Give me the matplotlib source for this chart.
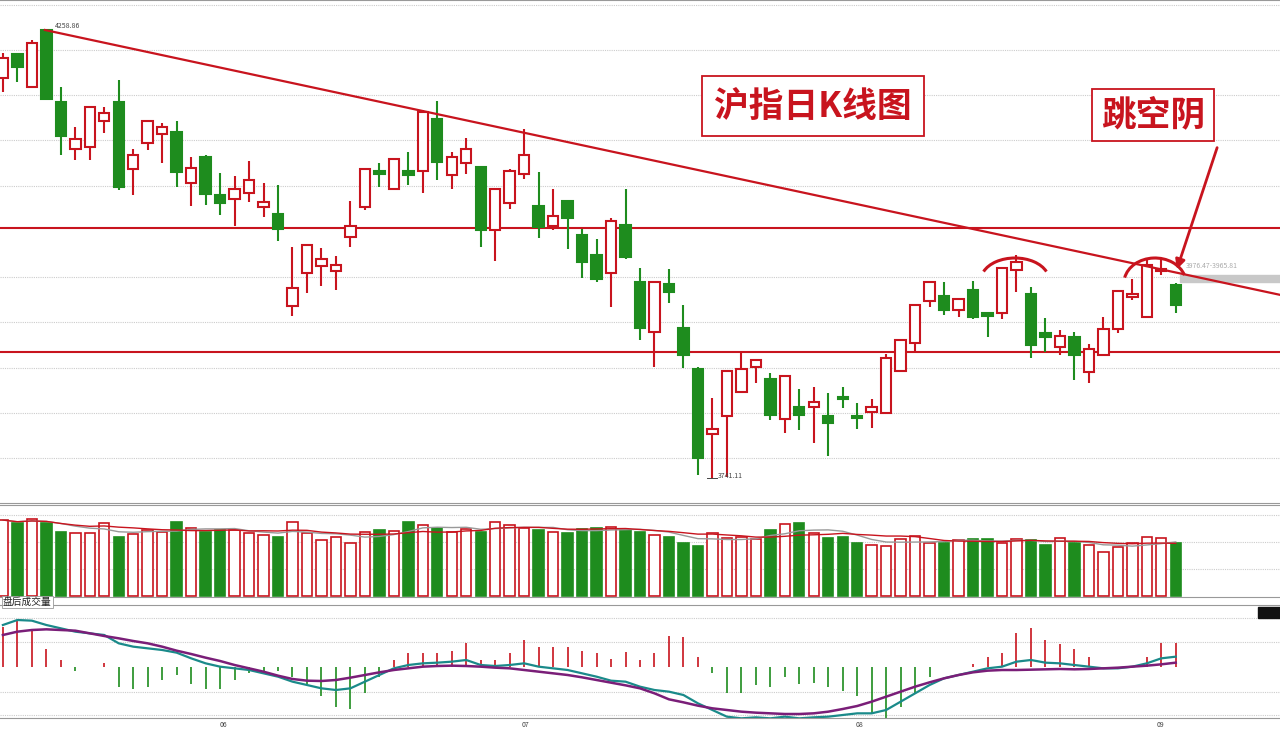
import matplotlib.pyplot as plt
import numpy as np
from matplotlib.patches import Rectangle, Arc, FancyArrowPatch

plt.rcParams['font.family'] = ['Noto Sans CJK SC', 'DejaVu Sans']

# candle readings (chart scale, top of chart = 0), converted to price below
open_r = [78, 54, 87, 30, 102, 149, 147, 121, 102, 169, 143, 134, 132, 183, 157, 195, 199, 193, 207, 214,
          306, 273, 266, 271, 237, 207, 171, 189, 171, 171, 119, 175, 163, 167, 230, 203, 174, 206, 226, 201,
          235, 255, 273, 225, 282, 332, 284, 328, 369, 434, 416, 392, 367, 379, 419, 407, 407, 416, 397, 416,
          412, 413, 371, 343, 301, 296, 310, 290, 313, 313, 270, 294, 333, 347, 337, 372, 355, 329, 297, 317,
          271, 285]
close_r = [58, 67, 43, 99, 136, 139, 107, 113, 187, 155, 121, 127, 172, 168, 194, 203, 189, 180, 202, 229,
           288, 245, 259, 265, 226, 169, 174, 159, 175, 112, 162, 157, 149, 230, 189, 171, 155, 227, 216, 218,
           262, 279, 221, 257, 328, 282, 292, 355, 458, 429, 371, 369, 360, 415, 376, 415, 402, 423, 399, 418,
           407, 358, 340, 305, 282, 310, 299, 317, 316, 268, 262, 345, 337, 336, 355, 349, 329, 291, 294, 265,
           269, 305]
high_r = [53, 54, 40, 30, 87, 127, 107, 107, 80, 149, 121, 123, 121, 157, 155, 173, 176, 161, 183, 185,
          247, 245, 248, 256, 201, 169, 163, 159, 152, 110, 101, 152, 138, 167, 189, 169, 129, 172, 189, 201,
          229, 239, 218, 189, 268, 282, 269, 305, 367, 398, 371, 353, 360, 373, 376, 389, 387, 393, 387, 403,
          399, 354, 340, 305, 282, 282, 299, 281, 312, 268, 255, 287, 318, 330, 332, 344, 317, 291, 279, 260,
          259, 283]
low_r = [92, 82, 88, 100, 155, 160, 160, 133, 190, 195, 150, 163, 187, 206, 205, 215, 226, 202, 217, 241,
         316, 293, 286, 290, 247, 210, 187, 189, 185, 193, 180, 189, 174, 247, 261, 209, 179, 238, 230, 249,
         278, 282, 307, 259, 340, 367, 303, 368, 475, 478, 477, 392, 383, 420, 433, 430, 443, 456, 408, 429,
         428, 413, 371, 353, 307, 315, 317, 319, 337, 319, 292, 358, 352, 355, 380, 383, 355, 333, 300, 317,
         275, 313]

volume = [228, 218, 230, 220, 193, 188, 188, 218, 178, 185, 198, 193, 221, 203, 193, 198, 198, 188, 183, 178,
          223, 188, 168, 178, 158, 193, 198, 196, 223, 213, 203, 193, 200, 193, 223, 213, 203, 198, 193, 188,
          200, 203, 208, 198, 193, 183, 178, 158, 150, 190, 173, 178, 170, 198, 216, 218, 188, 173, 178, 158,
          153, 150, 170, 180, 160, 160, 168, 170, 170, 158, 170, 168, 153, 173, 158, 153, 133, 148, 158, 176,
          173, 158]

dif_r = [375, 360, 362, 375, 385, 395, 400, 405, 430, 440, 445, 450, 458, 475, 490, 500, 505, 510, 520, 530,
         545, 555, 565, 570, 565, 545, 525, 505, 495, 490, 488, 485, 480, 495, 498, 495, 490, 500, 505, 510,
         520, 530, 542, 545, 560, 570, 575, 585, 610, 630, 650, 655, 652, 655, 650, 655, 652, 650, 645, 640,
         640, 630, 605, 580, 555, 535, 525, 515, 505, 500, 485, 480, 488, 490, 495, 500, 505, 505, 500, 490,
         475, 470]
dea_r = [405, 395, 390, 388, 390, 392, 400, 408, 415, 423, 430, 440, 452, 462, 473, 483, 495, 505, 515, 527,
         537, 542, 543, 540, 533, 525, 517, 510, 505, 500, 498, 497, 498, 500, 503, 505, 510, 515, 520, 525,
         532, 540, 548, 556, 565, 580, 598, 607, 617, 625, 630, 635, 638, 640, 642, 642, 640, 635, 627, 618,
         605, 590, 575, 560, 547, 535, 525, 517, 512, 510, 510, 509, 508, 507, 508, 507, 505, 503, 500, 497,
         493, 488]

month_labels = ['06', '07', '08', '09']
month_pos = [15.2, 36.1, 59.2, 80.0]


def to_price(r):
    return 4258.86 - (np.asarray(r, float) - 30) * (4258.86 - 3741.11) / 448


o, c, h, l = to_price(open_r), to_price(close_r), to_price(high_r), to_price(low_r)
dif = 500 - np.array(dif_r)
dea = 500 - np.array(dea_r)
hist = (dif - dea) * 4
vol = np.array(volume, float)
n = len(o)
x = np.arange(n)

RED = '#c8141e'
GREEN = '#1e8c1e'
xlim = (-0.2, 88.2)

fig = plt.figure(figsize=(12.8, 7.37), dpi=100)
H = 737
ax = fig.add_axes([0, 1 - 503 / H, 1, 503 / H])
axv = fig.add_axes([0, 1 - 597 / H, 1, 92 / H])
axm = fig.add_axes([0, 1 - 718 / H, 1, 113 / H])

# ---- candles
for i in range(n):
    up = c[i] >= o[i]
    col = RED if up else GREEN
    lo_b, hi_b = min(o[i], c[i]), max(o[i], c[i])
    ax.vlines(i, l[i], lo_b, color=col, lw=1.5, zorder=2)
    ax.vlines(i, hi_b, h[i], color=col, lw=1.5, zorder=2)
    ax.add_patch(Rectangle((i - 0.36, lo_b), 0.72, max(hi_b - lo_b, 1.5),
                           facecolor='white' if up else col, edgecolor=col, lw=1.5, zorder=3))

for g in [5, 50, 95, 140, 186, 277, 322, 368, 413, 458]:
    ax.axhline(to_price(g), color='#cccccc', lw=0.8, ls=(0, (1, 1)), zorder=0)
ax.axhline(to_price(228), color=RED, lw=1.5, zorder=1)
ax.axhline(to_price(352), color=RED, lw=1.5, zorder=1)
ax.plot([(45 - 3) / 14.47, (1280 - 3) / 14.47], [to_price(30), to_price(295)], color=RED, lw=1.6, zorder=4)
ax.text(3.6, to_price(28), '4258.86', fontsize=5, color='#444444')
ax.text(49.4, to_price(478), '3741.11', fontsize=5, color='#444444')
ax.plot([48.6, 49.3], [to_price(478), to_price(478)], color='#444444', lw=0.7)
ax.axhspan(to_price(282), to_price(275), xmin=1180 / 1280, xmax=1, color='#c8c8c8', zorder=0)
ax.text(81.7, to_price(268), '3976.47-3965.81', fontsize=5, color='#aaaaaa')
ax.set_xlim(*xlim)
ax.set_ylim(to_price(503), to_price(0))

# ---- volume
vcol = [RED if c[i] >= o[i] else GREEN for i in range(n)]
for i in range(n):
    up = c[i] >= o[i]
    axv.bar(i, vol[i], width=0.72, color='white' if up else GREEN, edgecolor=vcol[i], lw=1.2)
ma5 = np.zeros(n)
ma10 = np.zeros(n)
for k in range(n):
    ma5[k] = vol[max(0, k - 4):k + 1].mean()
    ma10[k] = vol[max(0, k - 9):k + 1].mean()
axv.plot(x, ma5, color='#999999', lw=1)
axv.plot(x, ma10, color=RED, lw=1)
for g in [243, 163, 83]:
    axv.axhline(g, color='#cccccc', lw=0.8, ls=(0, (1, 1)), zorder=0)
axv.set_xlim(*xlim)
axv.set_ylim(-2, 273)

# ---- MACD
for g in [145, 75, -75, -145]:
    axm.axhline(g, color='#cccccc', lw=0.8, ls=(0, (1, 1)), zorder=0)
axm.vlines(x, 0, hist, colors=[RED if v > 0 else GREEN for v in hist], lw=1.2)
axm.plot(x, dif, color='#1a8a8a', lw=1.6)
axm.plot(x, dea, color='#7a1e78', lw=1.8)
axm.set_xlim(*xlim)
axm.set_ylim(-154, 185)

for a in (ax, axv, axm):
    a.set_xticks([])
    a.set_yticks([])
    for s in a.spines.values():
        s.set_color('#999999')
        s.set_linewidth(0.8)
    a.spines['left'].set_visible(False)
    a.spines['right'].set_visible(False)

# ---- overlay (annotations in pixels)
ov = fig.add_axes([0, 0, 1, 1], facecolor='none')
ov.set_xlim(0, 1280)
ov.set_ylim(737, 0)
ov.axis('off')
for lab, px in zip(month_labels, month_pos):
    ov.text(3 + px * 14.47, 725, lab, fontsize=5, color='#444444', ha='center', va='center')
ov.text(3, 602, '盘后成交量', fontsize=7, color='#222222', va='center',
        bbox=dict(boxstyle='square,pad=0.15', fc='white', ec='#999999', lw=0.6))
ov.add_patch(Rectangle((1258, 607), 22, 11, color='#111111'))
ov.text(813, 106, '沪指日K线图', fontsize=25, fontweight='bold', color=RED, ha='center', va='center',
        bbox=dict(boxstyle='square,pad=0.35', fc='white', ec=RED, lw=1.3))
ov.text(1153, 115, '跳空阴', fontsize=25, fontweight='bold', color=RED, ha='center', va='center',
        bbox=dict(boxstyle='square,pad=0.25', fc='white', ec=RED, lw=1.3))
ov.add_patch(Arc((1015, 280), 68, 44, theta1=195, theta2=345, color=RED, lw=2.2))
ov.add_patch(Arc((1155, 283), 62, 50, theta1=190, theta2=345, color=RED, lw=2.2))
ov.add_patch(FancyArrowPatch((1218, 145), (1176, 272), arrowstyle='-|>', mutation_scale=14,
                             color=RED, lw=2))

fig.savefig('out.png', dpi=100)
